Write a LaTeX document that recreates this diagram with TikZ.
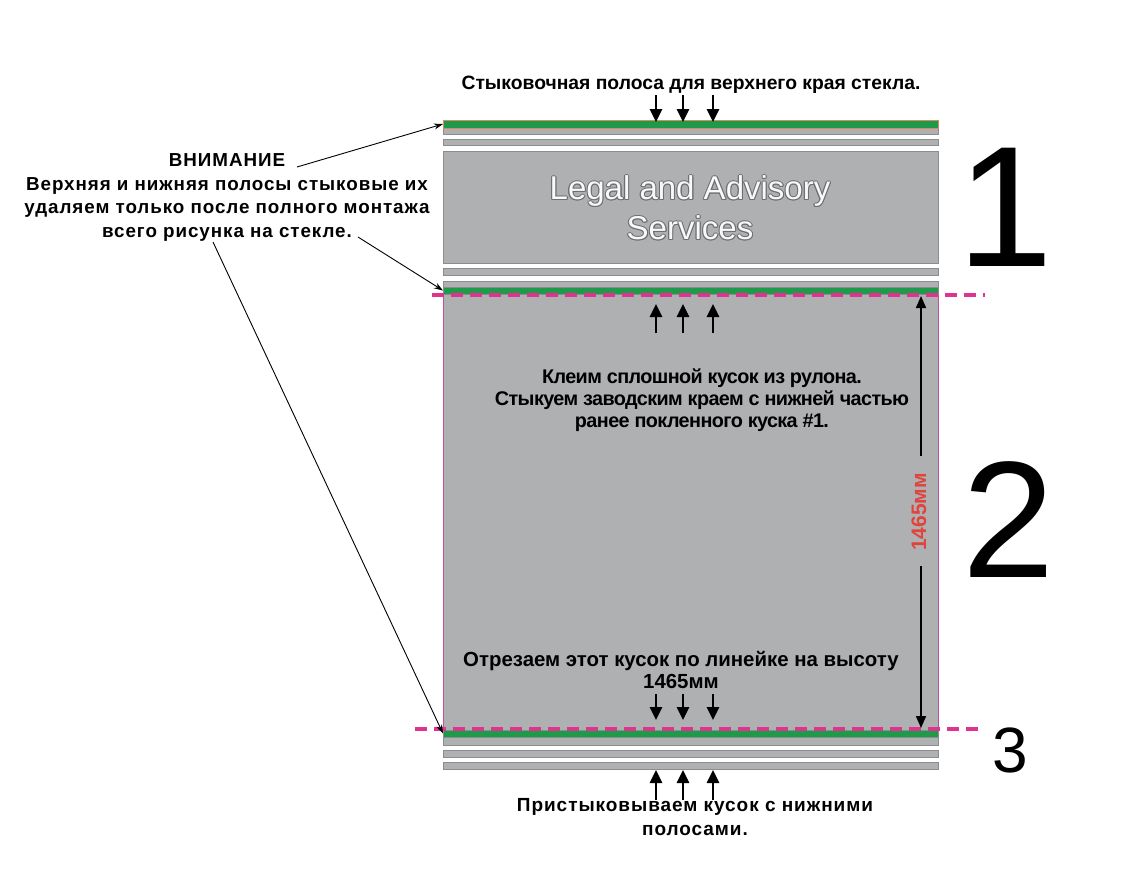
\documentclass[tikz,border=0pt]{standalone}
\usepackage{fontspec}
\setmainfont{Liberation Sans}
\newfontfamily\widefont{Liberation Sans}[LetterSpace=5]
\newfontfamily\tightfont{Liberation Sans}[LetterSpace=-3]
\usetikzlibrary{arrows.meta}
\definecolor{panel}{HTML}{AFB0B2}
\definecolor{edgegrey}{HTML}{8C8D8F}
\definecolor{stripgreen}{HTML}{1F9A4B}
\definecolor{orangeedge}{HTML}{D98A63}
\definecolor{mag}{HTML}{E0338F}
\definecolor{magedge}{HTML}{C4509C}
\definecolor{dimred}{HTML}{E0443C}
\definecolor{outl}{HTML}{6E6F71}
\tikzset{
  band/.style={draw=edgegrey, fill=panel, line width=0.8pt, inner sep=0pt, outer sep=0pt, anchor=north west, minimum width=495pt},
  gband/.style={draw=orangeedge, fill=stripgreen, line width=0.6pt, inner sep=0pt, outer sep=0pt, anchor=north west, minimum width=495pt},
  bigarrow/.style={line width=2.6pt, -{Triangle[length=13pt,width=12pt]}},
  leader/.style={line width=0.9pt, -{Stealth[length=9pt,width=6pt]}},
  magdash/.style={draw=mag, line width=3.2pt, dash pattern=on 12pt off 7pt},
  dimline/.style={line width=1.7pt, -{Triangle[length=12pt,width=10pt]}},
  lbl/.style={inner sep=0pt, font=\bfseries\fontsize{17}{20}\selectfont, align=center},
  bignum/.style={inner sep=0pt, anchor=center},
}
\begin{document}
\begin{tikzpicture}[x=1pt,y=-1pt]
\useasboundingbox (0,0) rectangle (1125,871);
\fill[white] (0,0) rectangle (1125,871);
% panel 2
\node[draw=magedge, fill=panel, line width=0.8pt, inner sep=0pt, outer sep=0pt, anchor=north west, minimum width=495pt, minimum height=436pt] (p2) at (443,294) {};
% top strips
\node[band, minimum height=6pt] (s1) at (443,128) {};
\node[gband, minimum height=8pt] (g1) at (443,120) {};
\node[band, minimum height=6pt] (s2) at (443,139) {};
\node[band, minimum height=112pt] (p1) at (443,151) {};
\node[band, minimum height=7pt] (s3) at (443,268) {};
\node[band, minimum height=6pt] (s4) at (443,281) {};
\node[gband, draw=edgegrey, minimum height=7pt] (g2) at (443,287) {};
% bottom strips
\node[band, minimum height=8pt] (s5) at (443,737) {};
\node[gband, draw=edgegrey, minimum height=7pt] (g3) at (443,730) {};
\node[band, minimum height=7pt] (s6) at (443,750) {};
\node[band, minimum height=7pt] (s7) at (443,762) {};
% dashed cut lines
\coordinate (d1a) at (432,295); \coordinate (d1b) at (985,295);
\coordinate (d2a) at (415,729); \coordinate (d2b) at (985,729);
\draw[magdash] (d1a) -- (d1b);
\draw[magdash] (d2a) -- (d2b);
% logo text
\foreach \dx/\dy in {1.1/0,-1.1/0,0/1.1,0/-1.1,0.8/0.8,-0.8/0.8,0.8/-0.8,-0.8/-0.8}{
  \node[inner sep=0pt, text=outl, font=\fontsize{33}{38}\selectfont, align=center] at (690+\dx,208+\dy) {Legal and Advisory\\[2pt]Services};
}
\node[inner sep=0pt, text=white!92!panel, font=\fontsize{33}{38}\selectfont, align=center] (logo) at (690,208) {Legal and Advisory\\[2pt]Services};
% big numbers
\node[bignum, font=\fontsize{172}{172}\selectfont] (n1) at (1005,207) {1};
\node[bignum, font=\fontsize{166}{166}\selectfont] (n2) at (1009,520) {2};
\node[bignum, font=\fontsize{64}{64}\selectfont] (n3) at (1010,750) {3};
% top label
\node[lbl, font=\bfseries\fontsize{19.3}{22}\selectfont] (tlabel) at (691,85) {Стыковочная полоса для верхнего края стекла.};
\foreach \x in {656,683,713}{
  \coordinate (ta\x) at (\x,95); \coordinate (tb\x) at (\x,122);
  \draw[bigarrow] (ta\x) -- (tb\x);
  \coordinate (ua\x) at (\x,333); \coordinate (ub\x) at (\x,304);
  \draw[bigarrow] (ua\x) -- (ub\x);
  \coordinate (da\x) at (\x,694); \coordinate (db\x) at (\x,720);
  \draw[bigarrow] (da\x) -- (db\x);
  \coordinate (ba\x) at (\x,800); \coordinate (bb\x) at (\x,770);
  \draw[bigarrow] (ba\x) -- (bb\x);
}
% left warning
\node[lbl, font=\widefont\bfseries\fontsize{18.8}{20}\selectfont] (warn) at (227,160) {ВНИМАНИЕ};
\node[lbl, font=\widefont\bfseries\fontsize{18.8}{23.5}\selectfont] (warntxt) at (227,209) {Верхняя и нижняя полосы стыковые их\\удаляем только после полного монтажа\\всего рисунка на стекле.};
\coordinate (w1) at (297,167);
\coordinate (w2) at (358,237);
\coordinate (w3) at (213,242);
\draw[leader] (w1) -- (g1.west);
\draw[leader] (w2) -- (g2.west);
\draw[leader] (w3) -- (g3.west);
% middle text
\node[lbl, font=\tightfont\bfseries\fontsize{19.8}{22}\selectfont] (mid) at (702,400) {Клеим сплошной кусок из рулона.\\Стыкуем заводским краем с нижней частью\\ранее покленного куска \#1.};
\node[lbl, font=\bfseries\fontsize{20.4}{22}\selectfont] (cut) at (681,670) {Отрезаем этот кусок по линейке на высоту\\1465мм};
\node[lbl, font=\widefont\bfseries\fontsize{19}{24}\selectfont] (join) at (695,817) {Пристыковываем кусок с нижними\\полосами.};
% dimension
\node[inner sep=0pt, rotate=90, text=dimred, font=\bfseries\fontsize{21}{24}\selectfont] (dim) at (919,512) {1465мм};
\coordinate (dimtop) at (921,296);
\coordinate (dimbot) at (921,728);
\draw[dimline] (921,456) -- (dimtop);
\draw[dimline] (921,566) -- (dimbot);
\end{tikzpicture}
\end{document}
